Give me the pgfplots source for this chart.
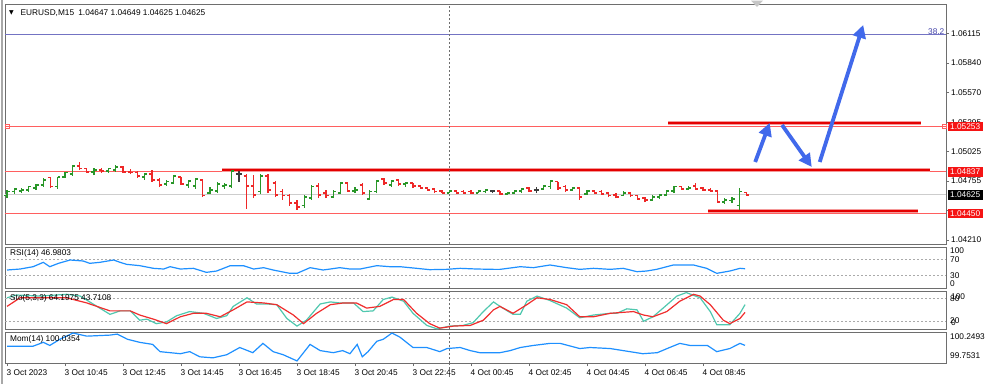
\documentclass[border=0pt]{standalone}
\usepackage{pgfplots}
\pgfplotsset{compat=1.18}
\usepackage{pgfplotstable}
\usetikzlibrary{arrows.meta}
\usepackage{fontspec}
\setmainfont{Liberation Sans}
\newfontfamily\dejavu{DejaVu Sans}
\newcommand\mtf{\fontsize{8.3pt}{10pt}\selectfont}

\definecolor{upg}{RGB}{40,150,40}
\definecolor{dnr}{RGB}{238,40,40}
\definecolor{dojic}{RGB}{60,60,60}
\definecolor{lvlred}{RGB}{255,95,95}
\definecolor{thkred}{RGB}{228,0,0}
\definecolor{fibblue}{RGB}{115,115,195}
\definecolor{fibtxt}{RGB}{70,70,170}
\definecolor{bidgray}{RGB}{205,205,205}
\definecolor{framec}{RGB}{110,110,110}
\definecolor{arrowblue}{RGB}{65,105,235}
\definecolor{rsiblue}{RGB}{30,144,255}
\definecolor{stomain}{RGB}{80,200,175}
\definecolor{stosig}{RGB}{240,45,45}
\definecolor{lvlgray}{RGB}{170,170,170}
\definecolor{boxred}{RGB}{245,20,20}

\pgfdeclareplotmark{otick}{\pgfpathmoveto{\pgfqpoint{-2.7pt}{0pt}}\pgfpathlineto{\pgfqpoint{0pt}{0pt}}\pgfusepathqstroke}
\pgfdeclareplotmark{ctick}{\pgfpathmoveto{\pgfqpoint{0pt}{0pt}}\pgfpathlineto{\pgfqpoint{2.7pt}{0pt}}\pgfusepathqstroke}

% bars: index, open, high, low, close
\pgfplotstableread{
i o h l c
0 1.04616 1.04671 1.04597 1.04653
1 1.04653 1.04689 1.04634 1.04680
2 1.04662 1.04689 1.04643 1.04671
3 1.04671 1.04708 1.04653 1.04699
4 1.04689 1.04726 1.04671 1.04717
5 1.04717 1.04782 1.04699 1.04763
7 1.04699 1.04791 1.04680 1.04791
8 1.04791 1.04837 1.04782 1.04828
9 1.04818 1.04892 1.04800 1.04892
12 1.04837 1.04874 1.04809 1.04855
14 1.04846 1.04874 1.04828 1.04865
15 1.04855 1.04901 1.04837 1.04883
19 1.04791 1.04828 1.04763 1.04818
22 1.04726 1.04763 1.04708 1.04745
23 1.04735 1.04809 1.04726 1.04800
25 1.04717 1.04763 1.04689 1.04754
26 1.04708 1.04782 1.04680 1.04772
28 1.04643 1.04699 1.04634 1.04671
29 1.04662 1.04745 1.04643 1.04726
30 1.04708 1.04735 1.04680 1.04717
31 1.04708 1.04855 1.04689 1.04846
35 1.04653 1.04818 1.04634 1.04800
41 1.04524 1.04625 1.04505 1.04606
42 1.04597 1.04717 1.04579 1.04699
45 1.04606 1.04671 1.04597 1.04653
46 1.04643 1.04745 1.04634 1.04735
48 1.04662 1.04699 1.04643 1.04671
50 1.04588 1.04671 1.04579 1.04653
51 1.04653 1.04763 1.04643 1.04754
53 1.04717 1.04763 1.04699 1.04754
55 1.04726 1.04745 1.04699 1.04735
61 1.04643 1.04671 1.04643 1.04662
65 1.04643 1.04671 1.04643 1.04662
66 1.04653 1.04680 1.04643 1.04671
69 1.04634 1.04653 1.04625 1.04643
70 1.04643 1.04671 1.04634 1.04662
71 1.04662 1.04689 1.04643 1.04680
74 1.04680 1.04717 1.04671 1.04708
75 1.04699 1.04763 1.04680 1.04754
78 1.04671 1.04699 1.04662 1.04689
80 1.04634 1.04671 1.04625 1.04662
85 1.04616 1.04662 1.04616 1.04643
89 1.04579 1.04625 1.04570 1.04606
90 1.04606 1.04634 1.04588 1.04625
91 1.04625 1.04671 1.04616 1.04662
92 1.04662 1.04708 1.04643 1.04699
94 1.04680 1.04708 1.04680 1.04689
99 1.04560 1.04597 1.04542 1.04579
100 1.04570 1.04606 1.04551 1.04588
101 1.04524 1.04689 1.04487 1.04653
}\uptab

\pgfplotstableread{
i o h l c
6 1.04782 1.04791 1.04689 1.04699
10 1.04892 1.04929 1.04855 1.04865
11 1.04865 1.04874 1.04828 1.04837
13 1.04855 1.04874 1.04828 1.04846
16 1.04883 1.04892 1.04828 1.04837
17 1.04837 1.04865 1.04818 1.04828
18 1.04828 1.04846 1.04782 1.04800
20 1.04818 1.04855 1.04745 1.04763
21 1.04763 1.04782 1.04699 1.04717
24 1.04791 1.04791 1.04717 1.04726
27 1.04763 1.04763 1.04606 1.04616
33 1.04800 1.04818 1.04496 1.04708
34 1.04708 1.04809 1.04597 1.04625
36 1.04800 1.04818 1.04643 1.04671
37 1.04735 1.04754 1.04606 1.04625
38 1.04653 1.04680 1.04579 1.04616
39 1.04616 1.04634 1.04524 1.04551
40 1.04551 1.04579 1.04487 1.04514
43 1.04708 1.04735 1.04597 1.04625
44 1.04643 1.04671 1.04597 1.04616
47 1.04735 1.04745 1.04653 1.04662
49 1.04717 1.04735 1.04625 1.04643
52 1.04772 1.04782 1.04717 1.04735
54 1.04763 1.04772 1.04708 1.04726
56 1.04735 1.04735 1.04689 1.04708
57 1.04708 1.04717 1.04680 1.04689
58 1.04689 1.04699 1.04662 1.04671
59 1.04680 1.04689 1.04643 1.04653
60 1.04662 1.04671 1.04643 1.04643
62 1.04662 1.04671 1.04634 1.04643
63 1.04653 1.04671 1.04634 1.04643
64 1.04653 1.04671 1.04634 1.04643
68 1.04662 1.04662 1.04625 1.04634
72 1.04689 1.04699 1.04653 1.04662
76 1.04745 1.04745 1.04671 1.04689
77 1.04699 1.04717 1.04653 1.04671
79 1.04689 1.04689 1.04579 1.04606
81 1.04662 1.04671 1.04634 1.04643
82 1.04653 1.04671 1.04625 1.04634
83 1.04643 1.04653 1.04606 1.04616
84 1.04625 1.04643 1.04597 1.04606
86 1.04643 1.04653 1.04606 1.04616
87 1.04616 1.04625 1.04579 1.04588
88 1.04597 1.04606 1.04560 1.04579
93 1.04699 1.04708 1.04671 1.04680
95 1.04708 1.04735 1.04671 1.04680
96 1.04689 1.04699 1.04662 1.04671
97 1.04671 1.04689 1.04653 1.04662
98 1.04662 1.04671 1.04551 1.04560
102 1.04647 1.04649 1.04625 1.04625
}\dntab

\pgfplotstableread{
i o h l c
32 1.04818 1.04846 1.04745 1.04818
67 1.04662 1.04671 1.04643 1.04662
73 1.04671 1.04699 1.04643 1.04671
}\dojitab

\newcommand\candles[2]{%
\addplot[#2, line width=1.1pt, quiver={u=0, v=\thisrow{h}-\thisrow{l}}, -] table[x=i, y=l] {#1};
\addplot[#2, only marks, mark=otick, mark options={line width=1.1pt}] table[x=i, y=o] {#1};
\addplot[#2, only marks, mark=ctick, mark options={line width=1.1pt}] table[x=i, y=c] {#1};
}

\pgfplotsset{mtpanel/.style={scale only axis, width=941pt, xmin=-0.28, xmax=129.52,
  axis line style={draw=framec, line width=0.9pt}, xtick=\empty, ytick=\empty,
  anchor=north west, clip=true}}

\begin{document}
\begin{tikzpicture}[x=1pt,y=1pt]
\useasboundingbox (0,0) rectangle (1001,-384);
\fill[white] (0,0) rectangle (1001,-384);
\draw[framec!60, line width=1.2pt] (2,0) -- (2,-384);

% ---------------- main price panel ----------------
\begin{axis}[mtpanel, at={(5pt,-4pt)}, height=240pt,
  ymin=1.04173, ymax=1.06385,
  ytick={1.06115,1.05840,1.05570,1.05295,1.05025,1.04755,1.04480,1.04210},
  yticklabels={1.06115,1.05840,1.05570,1.05295,1.05025,1.04755,,1.04210},
  ytick pos=right, yticklabel pos=right, tick align=outside, major tick length=3pt,
  tick style={draw=framec, line width=0.7pt}, scaled y ticks=false,
  yticklabel style={font=\mtf, inner sep=1pt, xshift=1pt}]
\addplot[bidgray, line width=1pt] coordinates {(-0.28,1.04625) (129.52,1.04625)};
\addplot[fibblue, line width=1pt] coordinates {(-0.28,1.06100) (129.52,1.06100)};
\addplot[lvlred, line width=1pt] coordinates {(-0.28,1.05253) (129.52,1.05253)};
\addplot[lvlred, line width=1pt] coordinates {(-0.28,1.04837) (129.52,1.04837)};
\addplot[lvlred, line width=1pt] coordinates {(-0.28,1.04450) (129.52,1.04450)};
\addplot[lvlred, only marks, mark=square, mark size=2pt, mark options={line width=0.8pt}] coordinates {(0.0,1.05253) (129.3,1.05253)};
% drawn thick levels
\addplot[thkred!40, line width=4.8pt] coordinates {(91.2,1.05289) (126.1,1.05289)};
\addplot[thkred, line width=2.8pt] coordinates {(91.2,1.05289) (126.1,1.05289)};
\addplot[thkred!40, line width=4.8pt] coordinates {(29.7,1.04855) (127.3,1.04855)};
\addplot[thkred, line width=2.8pt] coordinates {(29.7,1.04855) (127.3,1.04855)};
\addplot[thkred!40, line width=4.8pt] coordinates {(96.7,1.04477) (125.7,1.04477)};
\addplot[thkred, line width=2.8pt] coordinates {(96.7,1.04477) (125.7,1.04477)};
% day separator
\addplot[framec, line width=0.9pt, dash pattern=on 2pt off 2pt] coordinates {(61,1.04173) (61,1.06385)};
% bars
\candles{\uptab}{upg}
\candles{\dntab}{dnr}
\candles{\dojitab}{dojic}
% arrows
\addplot[arrowblue, line width=3.8pt, -{Triangle[length=13pt,width=13pt]}] coordinates {(103.2,1.04929) (105.2,1.05289)};
\addplot[arrowblue, line width=3.8pt, -{Triangle[length=13pt,width=13pt]}] coordinates {(106.9,1.05270) (111.0,1.04883)};
\addplot[arrowblue, line width=3.8pt, -{Triangle[length=13pt,width=13pt]}] coordinates {(112.1,1.04929) (118.1,1.06192)};
\coordinate (R1) at (axis cs:129.52,1.05253);
\coordinate (R2) at (axis cs:129.52,1.04837);
\coordinate (R3) at (axis cs:129.52,1.04625);
\coordinate (R4) at (axis cs:129.52,1.04450);
\coordinate (F1) at (axis cs:129.52,1.06100);
\end{axis}

\node[font=\mtf, text=fibtxt, anchor=south east, inner sep=0.5pt] at ([xshift=-1pt]F1) {38.2};
\node[fill=boxred, text=white, font=\mtf, anchor=west, inner xsep=2.5pt, inner ysep=1.6pt] at ([xshift=1.5pt]R1) {1.05253};
\node[fill=boxred, text=white, font=\mtf, anchor=west, inner xsep=2.5pt, inner ysep=1.6pt] at ([xshift=1.5pt]R2) {1.04837};
\node[fill=black, text=white, font=\mtf, anchor=west, inner xsep=2.5pt, inner ysep=1.6pt] at ([xshift=1.5pt]R3) {1.04625};
\node[fill=boxred, text=white, font=\mtf, anchor=west, inner xsep=2.5pt, inner ysep=1.6pt] at ([xshift=1.5pt]R4) {1.04450};

\node[anchor=west, inner sep=0pt] at (9,-12.7) {\dejavu\fontsize{6pt}{6pt}\selectfont ▼};
\node[anchor=west, inner sep=0pt, font=\mtf] at (20.5,-12.7) {EURUSD,M15\enspace 1.04647 1.04649 1.04625 1.04625};
\fill[gray!45] (751,-0.5) -- (763,-0.5) -- (757,-7) -- cycle;

% ---------------- RSI ----------------
\begin{axis}[mtpanel, at={(5pt,-247pt)}, height=41pt, ymin=0, ymax=100]
\addplot[lvlgray, line width=0.8pt, dash pattern=on 2pt off 2pt] coordinates {(-0.28,70) (129.52,70)};
\addplot[lvlgray, line width=0.8pt, dash pattern=on 2pt off 2pt] coordinates {(-0.28,30) (129.52,30)};
\addplot[framec, line width=0.9pt, dash pattern=on 2pt off 2pt] coordinates {(61,0) (61,100)};
\addplot[rsiblue, line width=1.2pt] coordinates {
(0,43.9) (1.8,46.3) (3.6,52.0) (5.0,62.6) (5.9,52.0) (7.1,60.2) (8.7,68.3) (10.5,65.9) (11.4,60.2) (12.8,62.6) (14.7,68.3) (15.6,62.6) (16.5,57.7) (18.3,54.5) (20.2,48.0) (21.6,46.3) (22.5,52.0) (23.9,46.3) (25.7,48.0) (27.5,38.2) (28.9,41.4) (30.8,54.5) (32.6,54.5) (34.0,46.3) (35.4,49.6) (36.7,43.9) (39.0,35.8) (40.0,35.8) (41.8,49.6) (43.6,43.9) (45.9,49.6) (47.3,46.3) (48.7,46.3) (51.0,54.5) (52.8,52.0) (54.2,52.0) (56.5,48.0) (58.3,44.7) (60.6,45.5) (62.5,48.0) (64.8,46.3) (67.1,45.5) (68.0,45.5) (70.8,52.0) (72.6,49.6) (74.9,56.1) (77.2,49.6) (79.0,45.5) (80.9,48.0) (83.2,45.5) (85.0,48.0) (86.9,39.8) (88.2,41.4) (89.6,45.5) (91.9,56.1) (94.7,56.1) (96.5,48.0) (97.9,35.8) (99.7,41.4) (101.1,48.0) (101.8,46.98)};
\end{axis}
\node[anchor=west, inner sep=0pt, font=\mtf] at (10,-253) {RSI(14) 46.9803};
\node[anchor=west, inner sep=0pt, font=\mtf] at (950,-251) {100};
\node[anchor=west, inner sep=0pt, font=\mtf] at (950,-260) {70};
\node[anchor=west, inner sep=0pt, font=\mtf] at (950,-276) {30};
\node[anchor=west, inner sep=0pt, font=\mtf] at (950,-284) {0};

% ---------------- Stochastic ----------------
\begin{axis}[mtpanel, at={(5pt,-291pt)}, height=38pt, ymin=0, ymax=100]
\addplot[lvlgray, line width=0.8pt, dash pattern=on 2pt off 2pt] coordinates {(-0.28,80) (129.52,80)};
\addplot[lvlgray, line width=0.8pt, dash pattern=on 2pt off 2pt] coordinates {(-0.28,20) (129.52,20)};
\addplot[framec, line width=0.9pt, dash pattern=on 2pt off 2pt] coordinates {(61,0) (61,100)};
\addplot[stomain, line width=1.2pt] coordinates {
(0,82.2) (1.3,89.5) (4.6,86.7) (8.2,91.3) (10.1,86.7) (12.4,59.5) (14.2,38.6) (15.6,47.7) (17.0,47.7) (18.3,23.2) (19.3,25.9) (20.6,14.1) (22.0,18.6) (23.4,35.0) (25.2,45.9) (27.1,41.3) (28.9,27.7) (30.3,35.0) (31.2,59.5) (33.1,82.2) (34.4,65.9) (35.8,65.9) (37.2,64.0) (38.6,27.7) (40.0,7.7) (41.3,23.2) (43.2,65.9) (44.6,71.3) (45.9,68.6) (47.8,68.6) (49.1,45.9) (50.5,47.7) (51.9,77.7) (53.1,84.0) (54.7,73.1) (56.0,41.3) (57.9,9.5) (59.3,0.5) (61.1,7.7) (62.9,9.5) (64.3,16.8) (65.7,45.9) (67.1,71.3) (68.0,59.5) (69.8,38.6) (70.8,38.6) (71.7,73.1) (73.1,86.7) (74.9,74.9) (77.2,55.0) (79.0,29.5) (80.9,36.8) (83.2,41.3) (84.1,41.3) (85.5,53.1) (86.9,50.4) (87.8,20.4) (89.1,32.2) (90.5,55.0) (92.4,86.7) (93.7,95.8) (95.6,82.2) (97.0,45.9) (97.9,11.4) (99.7,11.4) (101.1,41.3) (101.8,64.1975)};
\addplot[stosig, line width=1.2pt] coordinates {
(0,59.5) (1.8,82.2) (4.6,82.2) (8.2,82.2) (11.0,68.6) (14.2,47.7) (17.0,47.7) (18.3,36.8) (20.2,25.9) (22.0,14.1) (23.9,32.2) (25.7,41.3) (27.5,41.3) (29.4,32.2) (31.2,50.4) (33.1,71.3) (35.4,68.6) (37.2,64.0) (39.5,36.8) (40.9,14.1) (42.7,41.3) (44.6,64.0) (46.4,68.6) (48.2,68.6) (49.6,55.0) (51.4,59.5) (53.3,77.7) (54.7,77.7) (56.5,41.3) (58.3,14.1) (59.7,2.3) (61.6,7.7) (63.9,9.5) (65.7,23.2) (67.1,50.4) (68.0,59.5) (69.8,41.3) (71.7,64.0) (73.1,82.2) (74.9,77.7) (77.2,64.0) (79.0,32.2) (80.9,32.2) (83.2,41.3) (86.4,45.9) (87.8,36.8) (89.1,32.2) (91.0,45.9) (92.8,73.1) (94.7,91.3) (95.6,86.7) (97.0,64.0) (98.8,23.2) (99.7,14.1) (101.1,27.7) (101.8,43.7108)};
\end{axis}
\node[anchor=west, inner sep=0pt, font=\mtf] at (10,-298) {Sto(5,3,3) 64.1975 43.7108};
\node[anchor=west, inner sep=0pt, font=\mtf] at (951,-297) {100};
\node[anchor=west, inner sep=0pt, font=\mtf] at (950,-299) {80};
\node[anchor=west, inner sep=0pt, font=\mtf] at (950,-321) {20};
\node[anchor=west, inner sep=0pt, font=\mtf] at (951,-323) {0};

% ---------------- Momentum ----------------
\begin{axis}[mtpanel, at={(5pt,-332pt)}, height=31pt, ymin=99.7531, ymax=100.2493,
  xtick={0,8,16,24,32,40,48,56,64,72,80,88,96},
  xticklabels={3 Oct 2023,3 Oct 10:45,3 Oct 12:45,3 Oct 14:45,3 Oct 16:45,3 Oct 18:45,3 Oct 20:45,3 Oct 22:45,4 Oct 00:45,4 Oct 02:45,4 Oct 04:45,4 Oct 06:45,4 Oct 08:45},
  xtick pos=bottom, tick align=outside, major tick length=3pt,
  tick style={draw=framec, line width=0.7pt},
  xticklabel style={font=\mtf, anchor=north west, inner sep=0pt, xshift=-0.5pt, yshift=-3pt}]
\addplot[framec, line width=0.9pt, dash pattern=on 2pt off 2pt] coordinates {(61,99.7531) (61,100.2493)};
\addplot[rsiblue, line width=1.2pt] coordinates {
(0,100.0227) (3.6,100.0227) (5.0,100.0839) (5.9,100.0343) (7.3,100.1335) (9.1,100.2328) (11.0,100.1831) (14.2,100.1997) (15.2,100.2162) (16.6,100.1335) (18.3,100.0839) (20.1,100.0508) (21.1,99.9350) (23.9,99.9020) (25.2,99.9350) (26.6,99.8524) (28.4,99.8358) (30.3,99.8854) (32.1,100.0012) (33.9,99.9185) (35.3,100.0674) (36.7,99.9350) (38.1,99.8854) (40.0,99.7862) (41.8,100.0508) (43.2,99.9516) (45.0,99.9185) (46.3,99.9516) (47.3,99.9020) (48.3,100.0508) (49.0,99.8524) (49.8,99.9350) (51.0,100.1004) (51.9,100.1335) (53.1,100.2328) (54.2,100.1666) (56.0,100.0012) (57.9,100.0012) (59.7,99.9350) (60.7,99.9847) (62.5,100.0012) (63.9,99.9516) (65.2,99.9185) (68.0,99.9185) (69.4,99.9516) (70.8,100.0012) (72.6,100.0343) (74.9,100.0674) (76.3,100.0674) (79.0,99.9847) (80.4,100.0012) (83.2,99.9847) (85.0,99.9516) (87.7,99.9020) (89.7,99.9185) (91.4,100.0012) (92.8,100.0674) (94.2,100.0343) (96.6,100.0343) (97.9,99.9350) (99.7,99.9847) (101.1,100.0674) (101.8,100.0354)};
\end{axis}
\draw[framec, line width=0.9pt, dash pattern=on 2pt off 2pt] (449.25,-363) -- (449.25,-378);
\node[anchor=west, inner sep=0pt, font=\mtf] at (10,-339) {Mom(14) 100.0354};
\node[anchor=west, inner sep=0pt, font=\mtf] at (950,-337) {100.2493};
\node[anchor=west, inner sep=0pt, font=\mtf] at (950,-356) {99.7531};
\end{tikzpicture}
\end{document}
